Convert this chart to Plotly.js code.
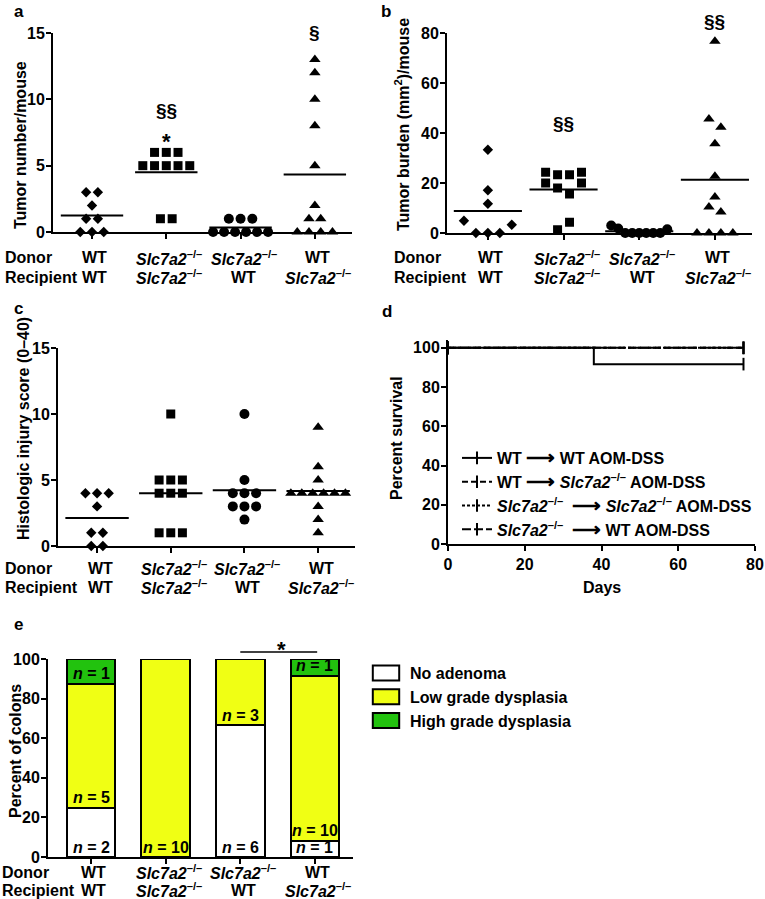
<!DOCTYPE html>
<html><head><meta charset="utf-8">
<script src="https://cdn.plot.ly/plotly-3.0.1.min.js"></script>
<style>html,body{margin:0;padding:0;background:#fff}</style>
</head><body><div id="chart" style="width:765px;height:899px"></div>
<script>
// ---------- data ----------
const SLC = '<i>Slc7a2</i><sup>–/–</sup>';
const donorLabels = ['WT', SLC, SLC, 'WT'];
const recipientLabels = ['WT', SLC, 'WT', SLC];

// a: tumor number per mouse
const numWT_WT = [3, 3, 2, 1, 1, 0, 0, 0];
const numKO_KO = [6, 6, 6, 5, 5, 5, 5, 5, 1, 1];
const numKO_WT = [1, 1, 1, 0, 0, 0, 0, 0, 0];
const numWT_KO = [13, 12, 10, 8, 5, 2, 1, 1, 0, 0, 0, 0];

// b: tumor burden (mm2) per mouse
const burWT_WT = [33.3, 17.1, 11.7, 4.9, 0, 0, 0, 3.3];
const burKO_KO = [24.3, 23.3, 23.3, 24.3, 20, 18, 15.6, 20, 1.3, 4.3];
const burKO_WT = [3.0, 1.8, 0, 0, 0, 0, 0, 0, 1.5];
const burWT_KO = [76.7, 45.6, 42.3, 35.7, 22.7, 14.4, 10.4, 8.4, 0, 0, 0, 0];

// c: histologic injury score
const injWT_WT = [4, 4, 4, 3, 1, 1, 0, 0];
const injKO_KO = [10, 5, 5, 5, 4, 4, 4, 1, 1, 1];
const injKO_WT = [10, 5, 4, 4, 4, 3, 3, 3, 2];
const injWT_KO = [9, 6, 5, 4, 4, 4, 4, 4, 4, 3, 2, 1];

// d: survival
const ARROW = ' <span style="font-size:20px">⟶</span> ';
const survNames = [
  'WT' + ARROW + 'WT AOM-DSS',
  'WT' + ARROW + SLC + ' AOM-DSS',
  SLC + ' ' + ARROW + SLC + ' AOM-DSS',
  SLC + ' ' + ARROW + 'WT AOM-DSS'
];
const daysWT_WT = [0, 38, 77];  const survWT_WT = [100, 91.7, 91.7];  const censWT_WT = [1, 0, 1];
const daysWT_KO = [0, 77];      const survWT_KO = [100, 100];         const censWT_KO = [1, 1];
const daysKO_KO = [0, 77];      const survKO_KO = [100, 100];         const censKO_KO = [1, 1];
const daysKO_WT = [0, 77];      const survKO_WT = [100, 100];         const censKO_WT = [1, 1];

// e: dysplasia counts
const noAdenoma = [2, 0, 6, 1];
const lowGrade  = [5, 10, 3, 10];
const highGrade = [1, 0, 0, 1];
const dysNames = ['No adenoma', 'Low grade dysplasia', 'High grade dysplasia'];

// titles
const yTitles = ['Tumor number/mouse', 'Tumor burden (mm<sup>2</sup>)/mouse', 'Histologic injury score (0–40)',
  'Percent survival', 'Percent of colons'];

// ---------- helpers ----------
const W = 765, H = 899;
const FAM = '"Liberation Sans", Arial, Helvetica, sans-serif';
const F = (s) => ({family: FAM, size: s, color: '#000', weight: 'bold'});
const px = (x) => x / W;
const py = (y) => 1 - y / H;
const symbols = ['diamond', 'square', 'circle', 'triangle-up'];
const msize = [8, 9, 10, 10];
const cats = [0, 1, 2, 3];

function swarm(vals, rowTol, step, maxSpread) {
  const idx = vals.map((v, i) => i).sort((a, b) => vals[a] - vals[b] || a - b);
  const off = new Array(vals.length).fill(0);
  let i = 0;
  while (i < idx.length) {
    const start = vals[idx[i]];
    const row = [];
    while (i < idx.length && vals[idx[i]] - start < rowTol) { row.push(idx[i]); i++; }
    row.sort((a, b) => a - b);
    const n = row.length;
    const s = n > 1 ? Math.min(step, maxSpread / (n - 1)) : 0;
    row.forEach((k, j) => off[k] = (j - (n - 1) / 2) * s);
  }
  return off;
}
const mean = (a) => a.reduce((s, v) => s + v, 0) / a.length;

const traces = [];
function dotPanel(groups, xa, ya, rowTol, halfW) {
  const lx = [], ly = [];
  groups.forEach((g, i) => {
    const m = mean(g);
    lx.push(i - halfW, i + halfW, null); ly.push(m, m, null);
  });
  traces.push({type: 'scatter', mode: 'lines', x: lx, y: ly, xaxis: xa, yaxis: ya,
    line: {color: '#000', width: 2}, showlegend: false, hoverinfo: 'skip', cliponaxis: false});
  groups.forEach((g, i) => {
    const off = swarm(g, rowTol, 0.158, 0.74);
    traces.push({type: 'scatter', mode: 'markers', x: g.map((v, k) => i + off[k]), y: g,
      xaxis: xa, yaxis: ya, cliponaxis: false, showlegend: false, hoverinfo: 'skip',
      marker: {symbol: symbols[i], size: msize[i], color: '#000', line: {width: 0}}});
  });
}
dotPanel([numWT_WT, numKO_KO, numKO_WT, numWT_KO], 'x', 'y', 0.5, 0.42);
dotPanel([burWT_WT, burKO_KO, burKO_WT, burWT_KO], 'x2', 'y2', 5.2, 0.45);
dotPanel([injWT_WT, injKO_KO, injKO_WT, injWT_KO], 'x3', 'y3', 0.5, 0.43);

// survival (dashed first, solid last; legend ordered by rank)
const survSets = [
  [daysKO_KO, survKO_KO, censKO_KO, '3px,2px', 2],
  [daysKO_WT, survKO_WT, censKO_WT, '9px,3px', 3],
  [daysWT_KO, survWT_KO, censWT_KO, '6px,3px', 1],
  [daysWT_WT, survWT_WT, censWT_WT, 'solid', 0]
];
survSets.forEach(([d, s, c, dash, k]) => {
  traces.push({type: 'scatter', mode: 'lines+markers', x: d, y: s, name: survNames[k], legendrank: k + 1,
    xaxis: 'x4', yaxis: 'y4', legend: 'legend', legendgroup: 'g' + k,
    line: {shape: 'hv', color: '#000', width: 2, dash: dash},
    marker: {symbol: 'line-ns-open', size: 9, color: c.map(v => v ? '#000' : 'rgba(0,0,0,0)'), line: {width: 2}},
    cliponaxis: false, hoverinfo: 'skip'});
});

// stacked bars
const totals = noAdenoma.map((v, i) => v + lowGrade[i] + highGrade[i]);
const dysCounts = [noAdenoma, lowGrade, highGrade];
const dysColors = ['#ffffff', '#f0ff14', '#22c20e'];
dysCounts.forEach((cnt, j) => {
  traces.push({type: 'bar', x: cats, y: cnt.map((v, i) => v / totals[i] * 100), name: dysNames[j],
    xaxis: 'x5', yaxis: 'y5', legend: 'legend2', legendgroup: 'd' + j, legendrank: j + 1, width: 0.65,
    marker: {color: dysColors[j], line: {color: '#000', width: 2}}, hoverinfo: 'skip'});
});

// ---------- annotations ----------
const ann = [];
const txt = (o) => ann.push(Object.assign({showarrow: false, font: F(16), yanchor: 'middle'}, o));
const letters = [['a', 12], ['b', 379], ['c', 12, 297], ['d', 380, 300], ['e', 12, 613]];
letters.forEach(([t, x, y]) => txt({text: t, x: px(x), y: y ? py(y) : 1, xref: 'paper', yref: 'paper',
  xanchor: 'left', yanchor: 'top', font: F(17)}));

// group labels (Donor / Recipient rows)
const labelRows = [['x', 3, 258], ['x2', 392, 258], ['x3', 3, 568], ['x5', 0, 872]];
labelRows.forEach(([xa, x0, y]) => {
  const y2 = y + (xa === 'x5' ? 18 : 19);
  txt({text: 'Donor', x: px(x0), y: py(y), xref: 'paper', yref: 'paper', xanchor: 'left'});
  txt({text: 'Recipient', x: px(x0), y: py(y2), xref: 'paper', yref: 'paper', xanchor: 'left'});
  cats.forEach((c, i) => {
    txt({text: donorLabels[i], x: c + 0.04, y: py(y), xref: xa, yref: 'paper'});
    txt({text: recipientLabels[i], x: c + 0.04, y: py(y2), xref: xa, yref: 'paper'});
  });
});

// y-axis titles
const yTitlePos = [[21, 145], [402, 125], [24, 429], [396, 438], [15, 751]];
yTitles.forEach((t, i) => txt({text: t, x: px(yTitlePos[i][0]), y: py(yTitlePos[i][1]), xref: 'paper', yref: 'paper',
  textangle: -90, xanchor: 'center'}));
txt({text: 'Days', x: 40, y: py(587), xref: 'x4', yref: 'paper'});

// significance marks
txt({text: '§§', x: 1, y: py(110), xref: 'x', yref: 'paper', font: F(19)});
txt({text: '*', x: 1, y: py(141), xref: 'x', yref: 'paper', font: F(22)});
txt({text: '§', x: 3, y: py(33), xref: 'x', yref: 'paper', font: F(19)});
txt({text: '§§', x: 1, y: py(123), xref: 'x2', yref: 'paper', font: F(19)});
txt({text: '§§', x: 3, y: py(22), xref: 'x2', yref: 'paper', font: F(19)});
txt({text: '*', x: 2.55, y: py(649), xref: 'x5', yref: 'paper', font: F(22)});
const shapes = [{type: 'line', xref: 'x5', yref: 'paper', x0: 2, x1: 3.03, y0: py(652), y1: py(652),
  line: {color: '#000', width: 1.5}}];

// n labels
cats.forEach((c, i) => {
  let base = 0;
  dysCounts.forEach((cnt) => {
    const h = cnt[i] / totals[i] * 100;
    if (cnt[i] > 0) txt({text: '<i>n</i> = ' + cnt[i], x: c, y: base + 5, xref: 'x5', yref: 'y5'});
    base += h;
  });
});

// ---------- axes ----------
const common = {showline: true, linewidth: 2, linecolor: '#000', ticks: 'outside', ticklen: 5, tickwidth: 2,
  tickcolor: '#000', showgrid: false, zeroline: false, tickfont: F(16), fixedrange: true};
function catX(d, r, anchor) {
  return Object.assign({}, common, {domain: d, range: r, anchor: anchor, tickvals: cats,
    showticklabels: false, layer: 'below traces'});
}
function valY(d, r, anchor, dt) {
  return Object.assign({}, common, {domain: d, range: r, anchor: anchor, dtick: dt, tick0: 0,
    layer: 'below traces', ticklabelstandoff: -2});
}

const layout = {
  width: W, height: H, margin: {l: 0, r: 0, t: 0, b: 0}, paper_bgcolor: '#fff', plot_bgcolor: 'rgba(0,0,0,0)',
  font: F(16), barmode: 'stack', showlegend: true,
  xaxis: catX([px(53), px(352)], [-0.525, 3.5], 'y'),
  yaxis: valY([py(232), py(33)], [0, 15], 'x', 5),
  xaxis2: catX([px(447), px(752)], [-0.54, 3.49], 'y2'),
  yaxis2: valY([py(233), py(33)], [0, 80], 'x2', 20),
  xaxis3: catX([px(58), px(355)], [-0.53, 3.5], 'y3'),
  yaxis3: valY([py(546), py(348)], [0, 15], 'x3', 5),
  xaxis4: Object.assign({}, common, {domain: [px(448), px(755)], range: [0, 80], anchor: 'y4', dtick: 20, tick0: 0}),
  yaxis4: Object.assign({}, common, {domain: [py(544), py(340)], range: [0, 104], anchor: 'x4',
    tickvals: [0, 20, 40, 60, 80, 100], ticklabelstandoff: -2}),
  xaxis5: catX([px(48), px(353)], [-0.576, 3.51], 'y5'),
  yaxis5: valY([py(857), py(659)], [0, 100], 'x5', 20),
  legend: {x: px(457), y: py(441), xanchor: 'left', yanchor: 'top', font: F(16), bgcolor: 'rgba(0,0,0,0)',
    traceorder: 'normal', tracegroupgap: 1, itemwidth: 30},
  legend2: {x: px(370), y: py(656), xanchor: 'left', yanchor: 'top', font: F(16), bgcolor: 'rgba(0,0,0,0)',
    traceorder: 'normal', tracegroupgap: 9},
  annotations: ann,
  shapes: shapes
};

Plotly.newPlot('chart', traces, layout, {staticPlot: true, displayModeBar: false}).then(() => {
  // widen the legend swatches of panel e to the reference's flat boxes
  document.querySelectorAll('.legend2 .legendpoints path').forEach(p => {
    const t = p.getAttribute('transform') || '';
    p.setAttribute('transform', t + ' translate(-4,0) scale(2.2,1.25)');
    p.style.vectorEffect = 'non-scaling-stroke';
  });
});
</script></body></html>
